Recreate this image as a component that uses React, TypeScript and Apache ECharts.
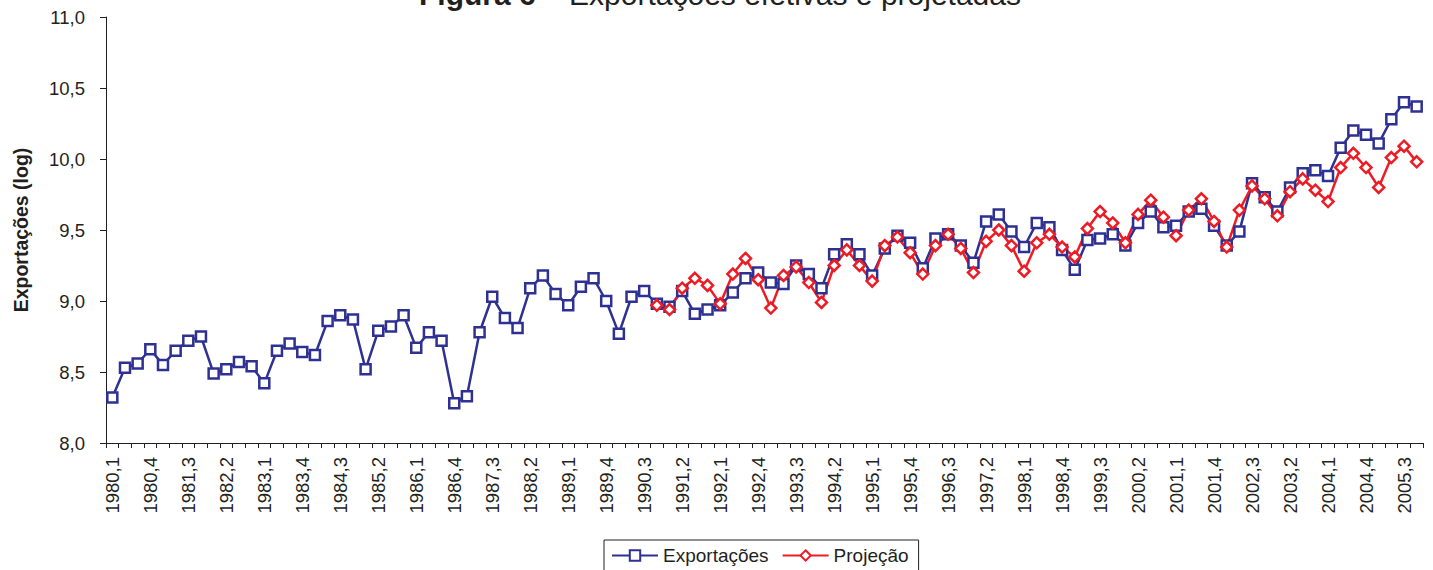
import React, { useEffect, useRef } from 'react';
import * as echarts from 'echarts';

const years = [1980, 1981, 1982, 1983, 1984, 1985, 1986, 1987, 1988, 1989, 1990, 1991, 1992,
  1993, 1994, 1995, 1996, 1997, 1998, 1999, 2000, 2001, 2002, 2003, 2004, 2005];
const quarters = [1, 2, 3, 4];
const categories: string[] = years.flatMap((y) => quarters.map((q) => `${y},${q}`));

const exportacoes = [
  8.32, 8.53, 8.56, 8.66, 8.55, 8.65, 8.72, 8.75,
  8.49, 8.52, 8.57, 8.54, 8.42, 8.65, 8.70, 8.64,
  8.62, 8.86, 8.90, 8.87, 8.52, 8.79, 8.82, 8.90,
  8.67, 8.78, 8.72, 8.28, 8.33, 8.78, 9.03, 8.88,
  8.81, 9.09, 9.18, 9.05, 8.97, 9.10, 9.16, 9.00,
  8.77, 9.03, 9.07, 8.98, 8.96, 9.07, 8.91, 8.94,
  8.97, 9.06, 9.16, 9.20, 9.13, 9.12, 9.25, 9.19,
  9.09, 9.33, 9.40, 9.33, 9.18, 9.37, 9.46, 9.41,
  9.23, 9.44, 9.47, 9.39, 9.27, 9.56, 9.61, 9.49,
  9.38, 9.55, 9.52, 9.36, 9.22, 9.43, 9.44, 9.47,
  9.39, 9.55, 9.63, 9.52, 9.53, 9.63, 9.65, 9.53,
  9.39, 9.49, 9.83, 9.73, 9.63, 9.80, 9.90, 9.92,
  9.88, 10.08, 10.20, 10.17, 10.11, 10.28, 10.40, 10.37,
];

// Projeção starts at 1990,4
const projecaoStart = '1990,4';
const projecaoValues = [
  8.97, 8.94, 9.09, 9.16, 9.11,
  8.98, 9.19, 9.30, 9.15, 8.95, 9.18, 9.24, 9.13,
  8.99, 9.25, 9.36, 9.25, 9.14, 9.39, 9.45, 9.34,
  9.19, 9.39, 9.47, 9.37, 9.20, 9.42, 9.50, 9.39,
  9.21, 9.41, 9.47, 9.38, 9.31, 9.51, 9.63, 9.55,
  9.41, 9.61, 9.71, 9.59, 9.46, 9.64, 9.72, 9.56,
  9.38, 9.64, 9.81, 9.72, 9.60, 9.77, 9.86, 9.78,
  9.70, 9.94, 10.04, 9.94, 9.80, 10.01, 10.09, 9.98,
];

const yTicks = { min: 8, max: 11, interval: 0.5 };

const FONT = '"Liberation Sans", Arial, Helvetica, sans-serif';
const TEXT = '#231f20';
const BLUE = '#2e3192';
const RED = '#ed1c24';

export default function App() {
  const ref = useRef<HTMLDivElement>(null);

  useEffect(() => {
    document.body.style.margin = '0';
    if (!ref.current) return;
    const chart = echarts.init(ref.current, undefined, { renderer: 'svg' });
    const startIdx = categories.indexOf(projecaoStart);
    const projecao = categories.map((_, i) => (i < startIdx ? null : projecaoValues[i - startIdx]));

    chart.setOption({
      animation: false,
      backgroundColor: '#ffffff',
      textStyle: { fontFamily: FONT, color: TEXT },
      grid: { left: 106, right: 10, top: 17, bottom: 127, containLabel: false },
      graphic: [
        {
          type: 'text',
          x: 720,
          y: -5.5,
          style: {
            text: '{b|Figura 6} – Exportações efetivas e projetadas',
            font: `30px ${FONT}`,
            fill: TEXT,
            align: 'center',
            verticalAlign: 'middle',
            rich: {
              b: { fontWeight: 'bold', fontSize: 30, fontFamily: FONT, fill: TEXT, color: TEXT },
            },
          },
        },
        {
          type: 'text',
          x: 21,
          y: 230,
          rotation: Math.PI / 2,
          style: {
            text: 'Exportações (log)',
            font: `bold 19.5px ${FONT}`,
            fill: TEXT,
            align: 'center',
            verticalAlign: 'middle',
          },
        },
      ],
      legend: {
        left: 604,
        top: 540,
        orient: 'horizontal',
        itemWidth: 46,
        itemHeight: 13,
        itemGap: 13,
        padding: [6, 10, 12, 7],
        borderColor: TEXT,
        borderWidth: 1,
        textStyle: { fontSize: 19, color: TEXT, fontFamily: FONT },
        data: ['Exportações', 'Projeção'],
      },
      xAxis: {
        type: 'category',
        data: categories,
        boundaryGap: true,
        axisLine: { show: true, lineStyle: { color: TEXT, width: 1 } },
        axisTick: { show: true, interval: 0, length: 5, lineStyle: { color: TEXT, width: 1 } },
        axisLabel: {
          interval: 2,
          rotate: 90,
          margin: 14,
          fontSize: 18.5,
          color: TEXT,
          fontFamily: FONT,
        },
        splitLine: { show: false },
      },
      yAxis: {
        type: 'value',
        min: yTicks.min,
        max: yTicks.max,
        interval: yTicks.interval,
        axisLine: { show: true, lineStyle: { color: TEXT, width: 1 } },
        axisTick: { show: true, length: 6, lineStyle: { color: TEXT, width: 1 } },
        axisLabel: {
          formatter: (v: number) => v.toFixed(1).replace('.', ','),
          margin: 21,
          fontSize: 18.5,
          color: TEXT,
          fontFamily: FONT,
        },
        splitLine: { show: false },
      },
      series: [
        {
          name: 'Exportações',
          type: 'line',
          data: exportacoes,
          symbol: 'rect',
          symbolSize: 10,
          showAllSymbol: true,
          lineStyle: { color: BLUE, width: 2.5 },
          itemStyle: { color: '#ffffff', borderColor: BLUE, borderWidth: 2.5 },
          emphasis: { disabled: true },
        },
        {
          name: 'Projeção',
          type: 'line',
          data: projecao,
          symbol: 'diamond',
          symbolSize: 11,
          showAllSymbol: true,
          lineStyle: { color: RED, width: 2.5 },
          itemStyle: { color: '#ffffff', borderColor: RED, borderWidth: 2.5 },
          emphasis: { disabled: true },
        },
      ],
    });

    return () => chart.dispose();
  }, []);

  return <div ref={ref} style={{ width: 1433, height: 570 }} />;
}
